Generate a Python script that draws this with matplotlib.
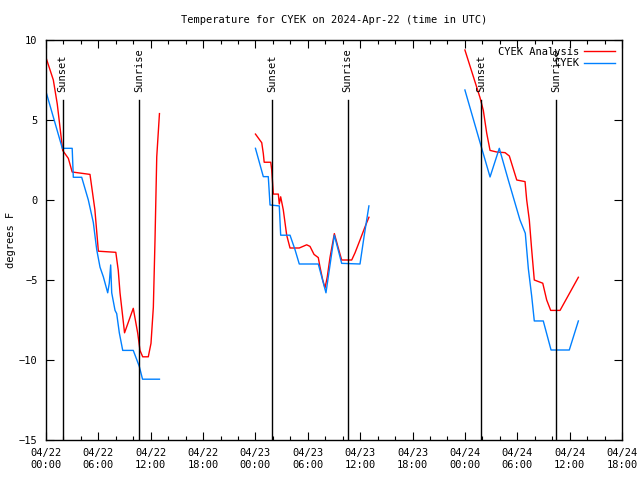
import matplotlib
matplotlib.use("Agg")
import matplotlib.pyplot as plt
import numpy as np

# hours since 2024-04-22 00:00 UTC
analysis_h = [
    [0, 0.84, 1.29, 1.72, 1.91, 2.56, 3.0, 5.04, 5.6, 6.0, 8.0, 8.28, 8.48, 9.0, 10.0, 10.51,
     10.77, 11.08, 11.72, 12.03, 12.3, 12.49, 12.69, 13.0],
    [24.0, 24.72, 24.9, 25.0, 25.75, 25.86, 26.05, 26.62, 26.73, 26.89, 27.19, 27.58, 27.96,
     29.02, 29.87, 30.25, 30.71, 31.2, 31.4, 31.71, 31.97, 32.23, 32.54, 33.04, 33.49, 33.88,
     35.03, 35.41, 35.98, 36.56, 37.0],
    [48.0, 49.73, 50.11, 50.5, 50.88, 51.64, 52.6, 53.09, 53.94, 54.89, 55.08, 55.38, 55.65,
     55.95, 56.92, 57.37, 57.83, 58.9, 61.0],
]
analysis_t = [
    [8.9, 7.5, 6.0, 4.0, 3.1, 2.6, 1.75, 1.6, -0.6, -3.2, -3.27, -4.4, -5.8, -8.3, -6.77, -8.33,
     -9.4, -9.8, -9.8, -8.96, -6.7, -2.5, 2.7, 5.4],
    [4.12, 3.58, 2.9, 2.36, 2.36, 1.9, 0.37, 0.37, -0.25, 0.2, -0.62, -2.2, -3.0,
     -3.0, -2.8, -2.9, -3.4, -3.6, -4.2, -5.0, -5.5, -4.8, -3.6, -2.1, -3.0, -3.75,
     -3.75, -3.3, -2.5, -1.67, -1.08],
    [9.375, 6.4, 5.6, 4.17, 3.1, 3.0, 2.96, 2.75, 1.25, 1.15, 0.0, -1.25, -3.1,
     -5.0, -5.2, -6.25, -6.9, -6.9, -4.83],
]
obs_h = [
    [0, 1.87, 3.0, 3.13, 4.09, 4.85, 5.42, 5.81, 6.19, 6.57, 7.07, 7.25, 7.41, 7.53, 7.91,
     8.1, 8.4, 8.79, 10.0, 10.69, 11.06, 13.0],
    [24.0, 24.9, 25.47, 25.67, 26.73, 26.89, 27.96, 28.53, 29.02, 31.2, 31.59, 32.08, 33.04,
     33.88, 35.98, 36.44, 37.0],
    [48.0, 49.73, 50.88, 51.94, 52.97, 54.31, 54.92, 55.27, 55.65, 55.95, 56.98, 57.87,
     59.96, 61.0],
]
obs_t = [
    [6.77, 3.23, 3.23, 1.42, 1.42, 0.0, -1.4, -3.1, -4.2, -4.8, -5.8, -5.2, -4.06, -5.8, -6.9,
     -7.1, -8.3, -9.4, -9.4, -10.4, -11.2, -11.2],
    [3.23, 1.46, 1.46, -0.31, -0.37, -2.2, -2.2, -3.1, -4.0, -4.0, -4.8, -5.8, -2.2,
     -3.96, -4.0, -2.3, -0.37],
    [6.875, 3.6, 1.44, 3.23, 1.25, -1.25, -2.08, -4.3, -6.0, -7.56, -7.56, -9.375,
     -9.375, -7.56],
]
sunset_h = [1.91, 25.87, 49.82]
sunrise_h = [10.69, 34.55, 58.45]

tick_h = list(range(0, 67, 6))
tick_labels = ["04/22\n00:00", "04/22\n06:00", "04/22\n12:00", "04/22\n18:00",
               "04/23\n00:00", "04/23\n06:00", "04/23\n12:00", "04/23\n18:00",
               "04/24\n00:00", "04/24\n06:00", "04/24\n12:00", "04/24\n18:00"]

plt.rcParams['font.family'] = ['DejaVu Sans Mono']
fs = 7.5

fig = plt.figure(figsize=(6.4, 4.8), dpi=100)
ax = fig.add_axes([46/640, 1-440/480, (622-46)/640, 400/480])

red = '#ff0000'
blue = '#0080ff'
for i, (h, t) in enumerate(zip(analysis_h, analysis_t)):
    ax.plot(h, t, color=red, lw=1.0, label='CYEK Analysis' if i == 0 else None)
for i, (h, t) in enumerate(zip(obs_h, obs_t)):
    ax.plot(h, t, color=blue, lw=1.0, label='CYEK' if i == 0 else None)

trans = ax.get_xaxis_transform()
for name, hs in (("Sunset", sunset_h), ("Sunrise", sunrise_h)):
    for h in hs:
        ax.plot([h, h], [0, 0.85], color='black', lw=1.0, transform=trans)
        ax.text(h, 0.87, name, rotation=90, ha='center', va='bottom',
                transform=trans, fontsize=fs)

ax.set_xlim(0, 66)
ax.set_ylim(-15, 10)
ax.set_xticks(tick_h)
ax.set_xticklabels(tick_labels, fontsize=fs)
ax.set_xticks(list(range(0, 67, 2)), minor=True)
ax.set_yticks([-15, -10, -5, 0, 5, 10])
ax.tick_params(axis='both', which='major', direction='in', length=6, width=0.8,
               top=True, right=True, labelsize=fs, pad=6)
ax.tick_params(axis='x', which='minor', direction='in', length=3, width=0.8,
               top=True, bottom=True)
for s in ax.spines.values():
    s.set_linewidth(1.0)

ax.set_ylabel('degrees F', fontsize=fs, labelpad=2)
ax.set_title('Temperature for CYEK on 2024-Apr-22 (time in UTC)', fontsize=fs, pad=12)

leg = ax.legend(loc='upper right', frameon=False, markerfirst=False, fontsize=fs,
                handlelength=3.0, borderaxespad=0.25, labelspacing=0.15, handletextpad=0.5)

fig.savefig('out.png', dpi=100)
